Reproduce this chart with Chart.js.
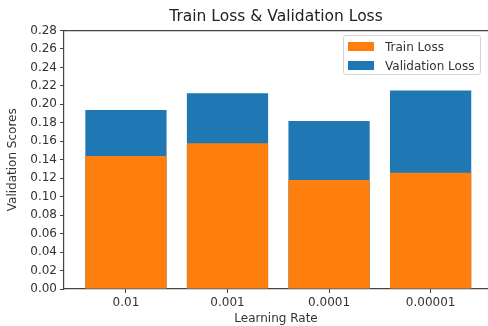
<!DOCTYPE html>
<html>
<head>
<meta charset="utf-8">
<script src="https://cdn.jsdelivr.net/npm/chart.js@4.4.1/dist/chart.umd.min.js"></script>
<style>
  html, body { margin: 0; padding: 0; background: #fff; overflow: hidden; }
  #wrap { position: relative; width: 488px; height: 326px; }
  #legenda {
    position: absolute; left: 343px; top: 35px; width: 136px; height: 38px;
    border: 1px solid #d6d6d6; border-radius: 3px; background: rgba(255,255,255,0.85);
    font-family: "DejaVu Sans", sans-serif; font-size: 12px; color: #333;
  }
  .fila { position: absolute; left: 0; height: 14px; line-height: 14px; white-space: nowrap; }
  .muestra { position: absolute; left: 4px; top: 2px; width: 26px; height: 9px; }
  .texto { position: absolute; left: 41px; top: 0; }
</style>
</head>
<body>
<div id="wrap">
  <canvas id="perdidas"></canvas>
  <div id="legenda"></div>
</div>
<script>
var tasasAprendizaje = ["0.01", "0.001", "0.0001", "0.00001"];
var perdidaTrain = [0.144, 0.158, 0.118, 0.126];
var perdidaValidacion = [0.194, 0.212, 0.182, 0.215];
var ticksY = [0, 0.02, 0.04, 0.06, 0.08, 0.10, 0.12, 0.14, 0.16, 0.18, 0.20, 0.22, 0.24, 0.26, 0.28];

var fuente = "'DejaVu Sans', sans-serif";
var colorTexto = '#333';
var colorEje = '#444';

function aPuntos(valores) {
    return valores.map(function (v, i) { return { x: i, y: v }; });
}

var ctx = document.getElementById("perdidas");
var grafico = new Chart(ctx, {
    type: 'bar',
    data: {
        datasets: [{
            label: 'Train Loss',
            data: aPuntos(perdidaTrain),
            backgroundColor: '#ff7f0e',
            order: 0
        }, {
            label: 'Validation Loss',
            data: aPuntos(perdidaValidacion),
            backgroundColor: '#1f77b4',
            order: 1
        }]
    },
    options: {
        responsive: true,
        maintainAspectRatio: false,
        animation: false,
        layout: { padding: 0 },
        datasets: {
            bar: { grouped: false, barPercentage: 0.8, categoryPercentage: 1 }
        },
        plugins: {
            legend: { display: false },
            tooltip: { enabled: false },
            title: { display: false }
        },
        scales: {
            x: {
                type: 'linear',
                position: 'bottom',
                offset: false,
                min: -0.61,
                max: 3.565,
                afterBuildTicks: function (eje) {
                    eje.ticks = tasasAprendizaje.map(function (t, i) { return { value: i }; });
                },
                afterFit: function (eje) { eje.height = 37; },
                ticks: {
                    color: colorTexto,
                    font: { family: fuente, size: 12 },
                    padding: 3,
                    maxRotation: 0,
                    callback: function (v) { return tasasAprendizaje[v]; }
                },
                grid: { offset: false, drawOnChartArea: false, drawTicks: true, tickLength: 4, color: colorEje },
                border: { display: true, color: colorEje, width: 1.2 },
                title: {
                    display: true,
                    text: 'Learning Rate',
                    color: colorTexto,
                    font: { family: fuente, size: 12 },
                    padding: { top: 0, bottom: 0 }
                }
            },
            // eje de arriba: solo la linea del marco y el titulo centrado sobre los ejes
            arriba: {
                type: 'linear',
                position: 'top',
                offset: false,
                min: -0.61,
                max: 3.565,
                afterFit: function (eje) { eje.height = 30.5; },
                ticks: { display: false },
                grid: { display: false, drawTicks: false },
                border: { display: true, color: colorEje, width: 1.2 },
                title: {
                    display: true,
                    text: 'Train Loss & Validation Loss',
                    color: '#222',
                    font: { family: fuente, size: 15.5 },
                    padding: { top: 8, bottom: 0 }
                }
            },
            y: {
                min: 0,
                max: 0.28,
                afterBuildTicks: function (eje) {
                    eje.ticks = ticksY.map(function (v) { return { value: v }; });
                },
                afterFit: function (eje) { eje.width = 64; },
                ticks: {
                    color: colorTexto,
                    font: { family: fuente, size: 12 },
                    padding: 3,
                    callback: function (v) { return Number(v).toFixed(2); }
                },
                grid: { drawOnChartArea: false, drawTicks: true, tickLength: 4, color: colorEje },
                border: { display: true, color: colorEje, width: 1.2 },
                title: {
                    display: true,
                    text: 'Validation Scores',
                    color: colorTexto,
                    font: { family: fuente, size: 12 },
                    padding: { top: 6, bottom: 0 }
                }
            }
        }
    }
});

// leyenda dentro del area, como la de matplotlib
var legenda = document.getElementById("legenda");
grafico.data.datasets.forEach(function (ds, i) {
    var fila = document.createElement("div");
    fila.className = "fila";
    fila.style.top = (4 + i * 18.5) + "px";
    fila.innerHTML = '<span class="muestra" style="background:' + ds.backgroundColor + '"></span>' +
        '<span class="texto">' + ds.label + '</span>';
    fila.style.width = "100%";
    legenda.appendChild(fila);
});
</script>
</body>
</html>
